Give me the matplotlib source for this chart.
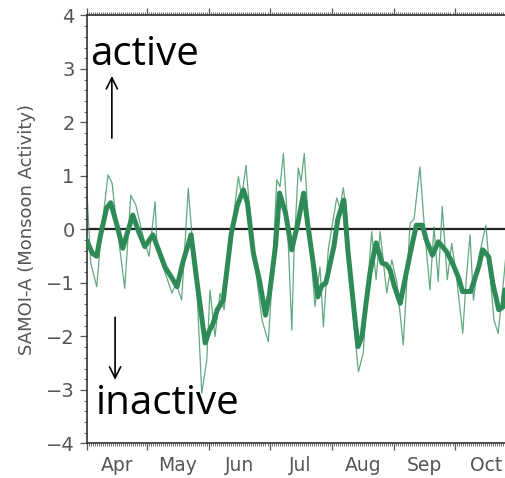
import matplotlib
matplotlib.use('Agg')
import matplotlib.pyplot as plt
from matplotlib.ticker import MultipleLocator, FixedLocator, NullFormatter
import matplotlib.transforms as mtransforms

# days counted from 1 April
month_names = ['Apr', 'May', 'Jun', 'Jul', 'Aug', 'Sep', 'Oct']
month_start = [0, 30, 61, 91, 122, 153, 183, 214]
y_ticks = [-4, -3, -2, -1, 0, 1, 2, 3, 4]
y_tick_labels = ['\u22124', '\u22123', '\u22122', '\u22121', '0', '1', '2', '3', '4']

# smoothed index (thick line)
thick_day = [0, 3, 5, 7, 10, 12, 15, 18, 20, 23, 26, 29, 33, 36, 39, 43, 45,
             48, 52, 55, 59, 61, 63, 65, 68, 70, 72, 75, 78, 80, 83, 86, 89,
             91, 94, 96, 99, 102, 105, 108, 110, 113, 115, 117, 119, 123, 125,
             128, 130, 133, 135, 137, 139, 141, 144, 147, 149, 151, 153, 156,
             158, 161, 164, 167, 169, 172, 175, 179, 182, 185, 187, 191, 195,
             197, 200, 202, 205, 207, 208]
thick_val = [-0.2, -0.45, -0.5, -0.1, 0.4, 0.5, 0.1, -0.35, -0.1, 0.27, -0.05,
             -0.32, -0.1, -0.4, -0.7, -0.94, -1.07, -0.6, -0.1, -1.0, -2.12,
             -1.9, -1.75, -1.5, -1.32, -0.7, -0.07, 0.45, 0.74, 0.5, -0.45,
             -0.95, -1.6, -1.2, -0.3, 0.68, 0.3, -0.38, 0.1, 0.68, 0.1, -0.7,
             -1.26, -1.05, -1.0, -0.32, 0.2, 0.55, -0.4, -1.5, -2.19, -2.0,
             -1.38, -0.8, -0.25, -0.63, -0.65, -0.76, -1.05, -1.38, -1.0,
             -0.44, 0.08, 0.08, -0.2, -0.48, -0.23, -0.41, -0.63, -0.9, -1.16,
             -1.16, -0.7, -0.38, -0.51, -1.0, -1.5, -1.45, -1.13]

# daily index (thin line)
thin_day = [0, 2.1, 5.1, 7.2, 10.7, 12.7, 14.7, 19.0, 22.0, 24.5, 28.6, 31.1,
            34.1, 35.1, 39.0, 42.5, 44.5, 47.3, 50.6, 53.0, 55.0, 57.3, 59.8,
            61.4, 63.9, 66.4, 68.4, 71.4, 75.5, 77.2, 79.3, 81.3, 84.6, 87.3,
            90.4, 92.2, 94.6, 96.2, 97.9, 99.7, 102.1, 103.2, 105.3, 106.7,
            108.3, 110.2, 113.6, 116.1, 117.8, 120.2, 124.4, 126.0, 127.7,
            129.5, 132.5, 135.2, 137.6, 139.5, 141.8, 144.0, 146.0, 149.3,
            151.8, 154.4, 157.5, 160.9, 162.9, 165.8, 168.3, 170.8, 172.8,
            174.9, 176.9, 179.4, 181.6, 183.7, 187.1, 188.7, 190.7, 192.4,
            195.2, 198.6, 200.6, 202.6, 204.7, 206.5, 208.5]
thin_val = [0.86, -0.63, -1.07, -0.1, 1.02, 0.87, 0.2, -1.1, 0.64, 0.46, -0.2,
            -0.5, 0.52, -0.38, -0.8, -1.19, -1.0, -1.32, 0.77, -0.38, -1.2,
            -3.06, -2.44, -1.13, -2.0, -1.19, -1.5, -0.3, 0.99, 0.6, 1.2, 0.3,
            -0.9, -1.7, -2.1, -1.0, 0.93, 0.8, 1.42, 0.3, -1.88, -0.4, 1.15,
            0.9, 1.42, 0.2, -1.44, -0.7, -1.82, -0.38, 0.59, 0.4, 0.78, 0.2,
            -1.6, -2.66, -2.31, -1.2, -0.04, -0.94, -0.04, -1.19, -0.57, -1.0,
            -2.16, 0.12, 0.2, 1.17, -0.1, -1.13, 0.05, -0.97, 0.43, -0.94,
            -0.26, -0.8, -1.94, -1.0, -0.1, -1.32, -0.5, 0.08, -0.8, -1.69,
            -1.94, -1.3, -0.51]

green = '#2e8b57'
grey = '#555555'

fig = plt.figure(figsize=(5.06, 4.78), dpi=100)
ax = fig.add_axes([0.171, 0.0722, 0.829, 0.8954])

ax.axhline(0, color='#222222', lw=1.6, zorder=1)
ax.plot(thin_day, thin_val, color=green, lw=0.9, alpha=0.75, zorder=2)
ax.plot(thick_day, thick_val, color=green, lw=3.6, solid_joinstyle='round',
        solid_capstyle='round', zorder=3)

ax.set_xlim(0, 208.6)
ax.set_ylim(-4, 4)

# spines and ticks
ax.spines['right'].set_visible(False)
for s in ['left', 'top', 'bottom']:
    ax.spines[s].set_color('#333333')
    ax.spines[s].set_linewidth(1.2)

ax.set_yticks(y_ticks)
ax.set_yticklabels(y_tick_labels)
ax.yaxis.set_minor_locator(MultipleLocator(0.2))
ax.xaxis.set_major_locator(FixedLocator(month_start))
ax.xaxis.set_minor_locator(MultipleLocator(1))
ax.xaxis.set_major_formatter(NullFormatter())
ax.tick_params(axis='both', which='both', direction='out', colors='#555555',
               labelcolor=grey)
ax.tick_params(axis='x', which='both', top=True, bottom=True)
ax.tick_params(axis='both', which='major', length=5, width=0.9)
ax.tick_params(axis='both', which='minor', length=2.5, width=0.6)
ax.tick_params(axis='y', which='major', labelsize=14, pad=3.5)

# month labels centred in each month
trans = mtransforms.blended_transform_factory(ax.transData, ax.transAxes)
for i, name in enumerate(month_names):
    mid = 0.5 * (month_start[i] + month_start[i + 1])
    ax.text(mid, -0.03, name, transform=trans, ha='center', va='top',
            fontsize=13.5, color=grey)

ax.set_ylabel('SAMOI-A (Monsoon Activity)', fontsize=13, color=grey)
ax.yaxis.set_label_coords(-0.12, 0.5)

# annotations
ax.text(1.6, 3.07, 'active', family='Open Sans', fontsize=29, color='black',
        ha='left', va='baseline')
ax.text(4.6, -3.44, 'inactive', family='Open Sans', fontsize=29, color='black',
        ha='left', va='baseline')
ax.annotate('', xy=(12.6, 2.87), xytext=(12.6, 1.71),
            arrowprops=dict(arrowstyle='->,head_length=0.4,head_width=0.2',
                            color='black', lw=1.2, mutation_scale=20,
                            shrinkA=0, shrinkB=0))
ax.annotate('', xy=(14.2, -2.81), xytext=(14.2, -1.64),
            arrowprops=dict(arrowstyle='->,head_length=0.4,head_width=0.2',
                            color='black', lw=1.2, mutation_scale=20,
                            shrinkA=0, shrinkB=0))

fig.savefig('out.png', dpi=100)
